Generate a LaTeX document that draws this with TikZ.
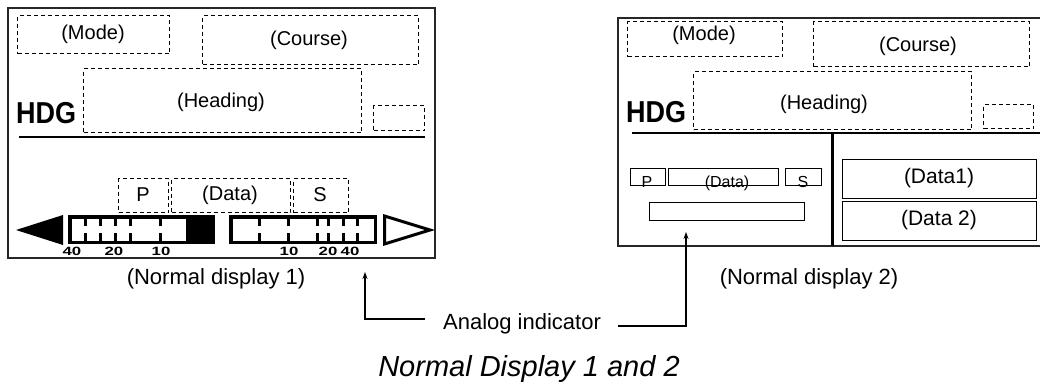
\documentclass[tikz,border=0pt]{standalone}
\usepackage{fontspec}
\setmainfont{Liberation Sans}
\usetikzlibrary{arrows.meta}
\newcommand\fsz[1]{\fontsize{#1}{#1}\selectfont}
\begin{document}
\begin{tikzpicture}[x=1pt,y=-1pt,
  frame/.style={draw=black!85, line width=1.5},
  dbox/.style={draw, dash pattern=on 4pt off 3pt, line width=1.3, inner sep=0, anchor=north west},
  sbox/.style={draw, line width=1.3, inner sep=0, anchor=north west},
  lbl/.style={font=\fsz{20}, inner sep=0},
  slbl/.style={font=\fsz{16}, inner sep=0, anchor=base},
  hdg/.style={font=\fsz{27}\bfseries, inner sep=0, anchor=base west},
  captext/.style={font=\fsz{22}, inner sep=0},
  num/.style={font=\fsz{12}\bfseries, inner sep=0},
  tickline/.style={line width=3},
  scalebar/.style={line width=3.5},
  arr/.style={line width=1.3, -{Stealth[length=7pt,width=5pt]}},
  sepline/.style={line width=2}
]
\useasboundingbox (0,0) rectangle (1040,385);

% ---------------- Normal display 1 ----------------
\draw[frame] (8,8) rectangle (435,258);
\node[dbox, minimum width=152, minimum height=38] (mode1) at (17,15) {};
\node[lbl] (mode1t) at (93,34) {(Mode)};
\node[dbox, minimum width=216, minimum height=49] (course1) at (202,15) {};
\node[lbl] (course1t) at (309,40) {(Course)};
\node[dbox, minimum width=278, minimum height=64] (head1) at (83,68) {};
\node[lbl] (head1t) at (221,102) {(Heading)};
\node[dbox, minimum width=51, minimum height=25] (small1) at (373,105) {};
\node[hdg] (hdg1) at (16,123) {\scalebox{1}[1.12]{HDG}};
\draw[sepline] (19,137) -- (425,137);
\node[dbox, minimum width=50, minimum height=34] (p1) at (118,178) {};
\node[lbl] (p1t) at (143,195) {P};
\node[dbox, minimum width=119, minimum height=34] (d1) at (171,178) {};
\node[lbl] (d1t) at (230,195) {(Data)};
\node[dbox, minimum width=55, minimum height=34] (s1) at (293,178) {};
\node[lbl] (s1t) at (320,195) {S};

% analog bar
\fill (16,230) -- (63,215) -- (63,245) -- cycle;
\fill (186,215) rectangle (215,244);
\draw[scalebar] (69.75,216.75) rectangle (213.25,242.25);
\foreach \x in {85,100,115,130,160}{
  \draw[tickline] (\x,218) -- (\x,226);
  \draw[tickline] (\x,233) -- (\x,241);
}
\draw[scalebar] (230.75,216.75) rectangle (375.25,242.25);
\foreach \x in {259,288,317,328,343,357}{
  \draw[tickline] (\x,218) -- (\x,226);
  \draw[tickline] (\x,233) -- (\x,241);
}
\draw[line width=3, line join=miter] (384.5,216) -- (384.5,244) -- (430,230) -- cycle;
\node[num] (n40a) at (72,251) {\scalebox{1.4}[1]{40}};
\node[num] (n20a) at (114,251) {\scalebox{1.4}[1]{20}};
\node[num] (n10a) at (161,251) {\scalebox{1.4}[1]{10}};
\node[num] (n10b) at (289,251) {\scalebox{1.4}[1]{10}};
\node[num] (n20b) at (328,251) {\scalebox{1.4}[1]{20}};
\node[num] (n40b) at (350,251) {\scalebox{1.4}[1]{40}};

\node[captext] (cap1) at (216,279) {(Normal display 1)};

% ---------------- Normal display 2 ----------------
\draw[frame] (1041,18) -- (618,18) -- (618,246) -- (1041,246);
\node[dbox, minimum width=155, minimum height=35] (mode2) at (627,21) {};
\node[lbl] (mode2t) at (704,35) {(Mode)};
\node[dbox, minimum width=216, minimum height=45] (course2) at (813,21) {};
\node[lbl] (course2t) at (918,46) {(Course)};
\node[dbox, minimum width=278, minimum height=58] (head2) at (693,71) {};
\node[lbl] (head2t) at (824,104) {(Heading)};
\node[dbox, minimum width=50, minimum height=24] (small2) at (983,104) {};
\node[hdg] (hdg2) at (626,122) {\scalebox{1}[1.12]{HDG}};
\draw[sepline] (632,133) -- (1041,133);
\draw[line width=3] (832,133) -- (832,246);
\node[sbox, minimum width=35, minimum height=17] (p2) at (630,168) {};
\node[slbl] (p2t) at (647,187) {P};
\node[sbox, minimum width=110, minimum height=17] (d2) at (668,168) {};
\node[slbl] (d2t) at (727,187) {(Data)};
\node[sbox, minimum width=36, minimum height=17] (s2) at (785,168) {};
\node[slbl] (s2t) at (803,187) {S};
\node[sbox, minimum width=155, minimum height=18] (bar2) at (649,202) {};
\node[sbox, minimum width=194, minimum height=39] (data1) at (842,159) {};
\node[font=\fsz{21}, inner sep=0] (data1t) at (939,178) {(Data1)};
\node[sbox, minimum width=194, minimum height=39] (data2) at (842,201) {};
\node[font=\fsz{21}, inner sep=0] (data2t) at (939,220) {(Data 2)};

\node[captext] (cap2) at (809,279) {(Normal display 2)};

% ---------------- Analog indicator ----------------
\node[captext, anchor=base] (ind) at (522,329) {Analog indicator};
\coordinate (lstart) at (425,319);
\coordinate (ltip) at (365,272);
\coordinate (rstart) at (618,326);
\coordinate (rtip) at (686,232);
\draw[arr] (lstart) -| (ltip);
\draw[arr] (rstart) -| (rtip);

\node[font=\fsz{29}\itshape, inner sep=0, anchor=base] (title) at (529,376) {Normal Display 1 and 2};
\end{tikzpicture}
\end{document}
